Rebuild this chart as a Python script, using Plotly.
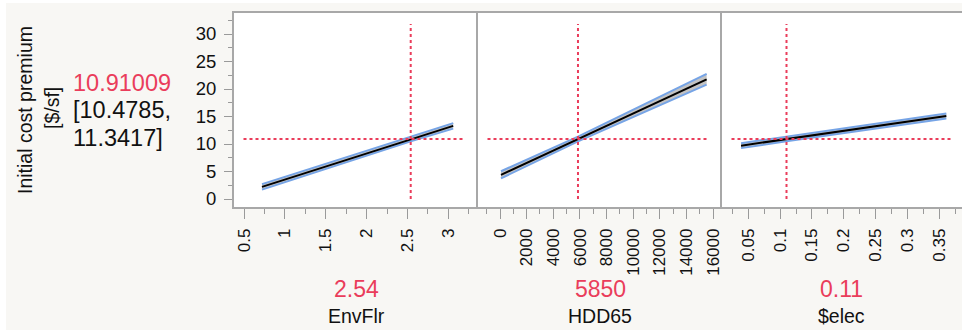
import plotly.graph_objects as go

# ---------------- data ----------------
factor_names = ["EnvFlr", "HDD65", "$elec"]
factor_current = [2.54, 5850, 0.11]
current_labels = ["2.54", "5850", "0.11"]

pred_value = 10.91009
pred_ci = [10.4785, 11.3417]
response_label = "Initial cost premium"
response_units = "[$/sf]"

envflr_x = [0.72, 2.54, 3.06]
envflr_y = [2.2, 10.91, 13.3]
envflr_lo = [1.7, 10.48, 12.8]
envflr_hi = [2.7, 11.34, 13.8]

hdd_x = [75, 5850, 15500]
hdd_y = [4.4, 10.91, 21.75]
hdd_lo = [3.75, 10.48, 20.8]
hdd_hi = [5.05, 11.34, 22.75]

elec_x = [0.0386, 0.11, 0.361]
elec_y = [9.7, 10.91, 15.1]
elec_lo = [9.25, 10.48, 14.65]
elec_hi = [10.15, 11.34, 15.55]

y_tickvals = [0, 5, 10, 15, 20, 25, 30]
y_ticktext = ["0", "5", "10", "15", "20", "25", "30"]

envflr_tickvals = [0.5, 1, 1.5, 2, 2.5, 3]
envflr_ticktext = ["0.5", "1", "1.5", "2", "2.5", "3"]
hdd_tickvals = [0, 2000, 4000, 6000, 8000, 10000, 12000, 14000, 16000]
hdd_ticktext = ["0", "2000", "4000", "6000", "8000", "10000", "12000", "14000", "16000"]
elec_tickvals = [0.05, 0.1, 0.15, 0.2, 0.25, 0.3, 0.35]
elec_ticktext = ["0.05", "0.1", "0.15", "0.2", "0.25", "0.3", "0.35"]

# ---------------- layout geometry ----------------
W, H = 962, 330
ML, MR, MT, MB = 234, 0, 13, 123
PW = W - ML - MR
PH = H - MT - MB
edges = [234, 478, 722, 962]


def fx(px):
    return (px - ML) / PW


def fy(py):
    return (H - MB - py) / PH


FONT = "Liberation Sans, Arial, Helvetica, sans-serif"
RED = "#EA3D5B"
BLUE = "#76A4E6"
BAND = "rgba(175,175,175,0.75)"
FRAME = "#A8A8A8"
TICKC = "#9A9A9A"
BG = "#F8F7F4"

curves = [
    (envflr_x, envflr_y, envflr_lo, envflr_hi),
    (hdd_x, hdd_y, hdd_lo, hdd_hi),
    (elec_x, elec_y, elec_lo, elec_hi),
]

fig = go.Figure()
for i, (xs, ys, lo, hi) in enumerate(curves):
    xa = "x" if i == 0 else f"x{i+1}"
    ya = "y" if i == 0 else f"y{i+1}"
    fig.add_trace(go.Scatter(x=xs, y=lo, mode="lines", line=dict(color=BLUE, width=2),
                             xaxis=xa, yaxis=ya, hoverinfo="skip", showlegend=False))
    fig.add_trace(go.Scatter(x=xs, y=hi, mode="lines", line=dict(color=BLUE, width=2),
                             fill="tonexty", fillcolor=BAND,
                             xaxis=xa, yaxis=ya, hoverinfo="skip", showlegend=False))
    fig.add_trace(go.Scatter(x=xs, y=ys, mode="lines", line=dict(color="#000000", width=2),
                             xaxis=xa, yaxis=ya, hoverinfo="skip", showlegend=False))

yrange = [-1.4545, 33.818]
xranges = [[0.3776, 3.3634], [-1650, 16653], [0.00869, 0.38565]]
x_ticks = [(envflr_tickvals, envflr_ticktext, 0.25),
           (hdd_tickvals, hdd_ticktext, 1000),
           (elec_tickvals, elec_ticktext, 0.025)]

layout = dict(
    width=W, height=H,
    margin=dict(l=ML, r=MR, t=MT, b=MB, pad=0),
    paper_bgcolor=BG, plot_bgcolor="#FFFFFF",
    font=dict(family=FONT, color="#111111"),
    showlegend=False,
)

for i in range(3):
    xk = "xaxis" if i == 0 else f"xaxis{i+1}"
    yk = "yaxis" if i == 0 else f"yaxis{i+1}"
    tv, tt, mdt = x_ticks[i]
    layout[xk] = dict(
        domain=[fx(edges[i]), fx(edges[i + 1])],
        anchor="y" if i == 0 else f"y{i+1}",
        range=xranges[i], showgrid=False, zeroline=False,
        showline=True, mirror=True, linecolor=FRAME, linewidth=1.5,
        ticks="outside", ticklen=10, tickwidth=1, tickcolor=TICKC,
        tickvals=tv, ticktext=tt, tickangle=-90,
        tickfont=dict(size=17, family=FONT, color="#111111"),
        ticklabelstandoff=3,
        minor=dict(dtick=mdt, ticks="outside", ticklen=5, tickwidth=1, tickcolor=TICKC, showgrid=False),
    )
    ydict = dict(
        domain=[0, 1], anchor="x" if i == 0 else f"x{i+1}",
        range=yrange, showgrid=False, zeroline=False,
        showline=True, linecolor=FRAME, linewidth=2,
    )
    if i == 0:
        ydict.update(
            ticks="outside", ticklen=8, tickwidth=1, tickcolor=TICKC,
            tickvals=y_tickvals, ticktext=y_ticktext,
            tickfont=dict(size=18.5, family=FONT, color="#111111"),
            ticklabelstandoff=4,
            minor=dict(dtick=2.5, ticks="outside", ticklen=4, tickwidth=1, tickcolor=TICKC, showgrid=False),
        )
    else:
        ydict.update(matches="y", showticklabels=False, ticks="")
    layout[yk] = ydict

fig.update_layout(**layout)

# reference (crosshair) lines
shapes = []
for i in range(3):
    xa = "x" if i == 0 else f"x{i+1}"
    ya = "y" if i == 0 else f"y{i+1}"
    pw = edges[i + 1] - edges[i]
    shapes.append(dict(type="line", xref=xa, yref=f"{ya} domain",
                       x0=factor_current[i], x1=factor_current[i], y0=fy(199), y1=fy(24),
                       line=dict(color=RED, width=2, dash="3px,3px"), layer="above"))
    shapes.append(dict(type="line", xref=f"{xa} domain", yref=ya,
                       x0=9.5 / pw, x1=(pw - 12.5) / 244 if i < 2 else (953.3 - edges[i]) / pw,
                       y0=pred_value, y1=pred_value,
                       line=dict(color=RED, width=2, dash="3px,3px"), layer="above"))
# white outer strips of the screenshot
shapes.append(dict(type="rect", xref="paper", yref="paper", x0=fx(0), x1=fx(W), y0=fy(3), y1=fy(0),
                   fillcolor="#FFFFFF", line=dict(width=0), layer="below"))
shapes.append(dict(type="rect", xref="paper", yref="paper", x0=fx(0), x1=fx(6), y0=fy(H), y1=fy(0),
                   fillcolor="#FFFFFF", line=dict(width=0), layer="below"))
fig.update_layout(shapes=shapes)

ann = []
ann.append(dict(text=response_label, x=fx(25), y=fy(110), xref="paper", yref="paper",
                textangle=-90, showarrow=False, font=dict(size=19.5, family=FONT, color="#111111"),
                xanchor="center", yanchor="middle"))
ann.append(dict(text=response_units, x=fx(52), y=fy(108), xref="paper", yref="paper",
                textangle=-90, showarrow=False, font=dict(size=19.5, family=FONT, color="#111111"),
                xanchor="center", yanchor="middle"))
ann.append(dict(text=f"{pred_value:.5f}", x=fx(71), y=fy(83), xref="paper", yref="paper",
                showarrow=False, font=dict(size=23.5, family=FONT, color=RED),
                xanchor="left", yanchor="middle"))
ann.append(dict(text=f"[{pred_ci[0]},", x=fx(71), y=fy(110), xref="paper", yref="paper",
                showarrow=False, font=dict(size=23.5, family=FONT, color="#111111"),
                xanchor="left", yanchor="middle"))
ann.append(dict(text=f"{pred_ci[1]}]", x=fx(71), y=fy(138), xref="paper", yref="paper",
                showarrow=False, font=dict(size=23.5, family=FONT, color="#111111"),
                xanchor="left", yanchor="middle"))
centers = [356, 600, 841]
for i in range(3):
    ann.append(dict(text=current_labels[i], x=fx(centers[i]), y=fy(289), xref="paper", yref="paper",
                    showarrow=False, font=dict(size=23, family=FONT, color=RED),
                    xanchor="center", yanchor="middle"))
    ann.append(dict(text=factor_names[i], x=fx(centers[i]), y=fy(316), xref="paper", yref="paper",
                    showarrow=False, font=dict(size=19.5, family=FONT, color="#111111"),
                    xanchor="center", yanchor="middle"))
fig.update_layout(annotations=ann)

fig.write_html("out.html", config={"displayModeBar": False})
